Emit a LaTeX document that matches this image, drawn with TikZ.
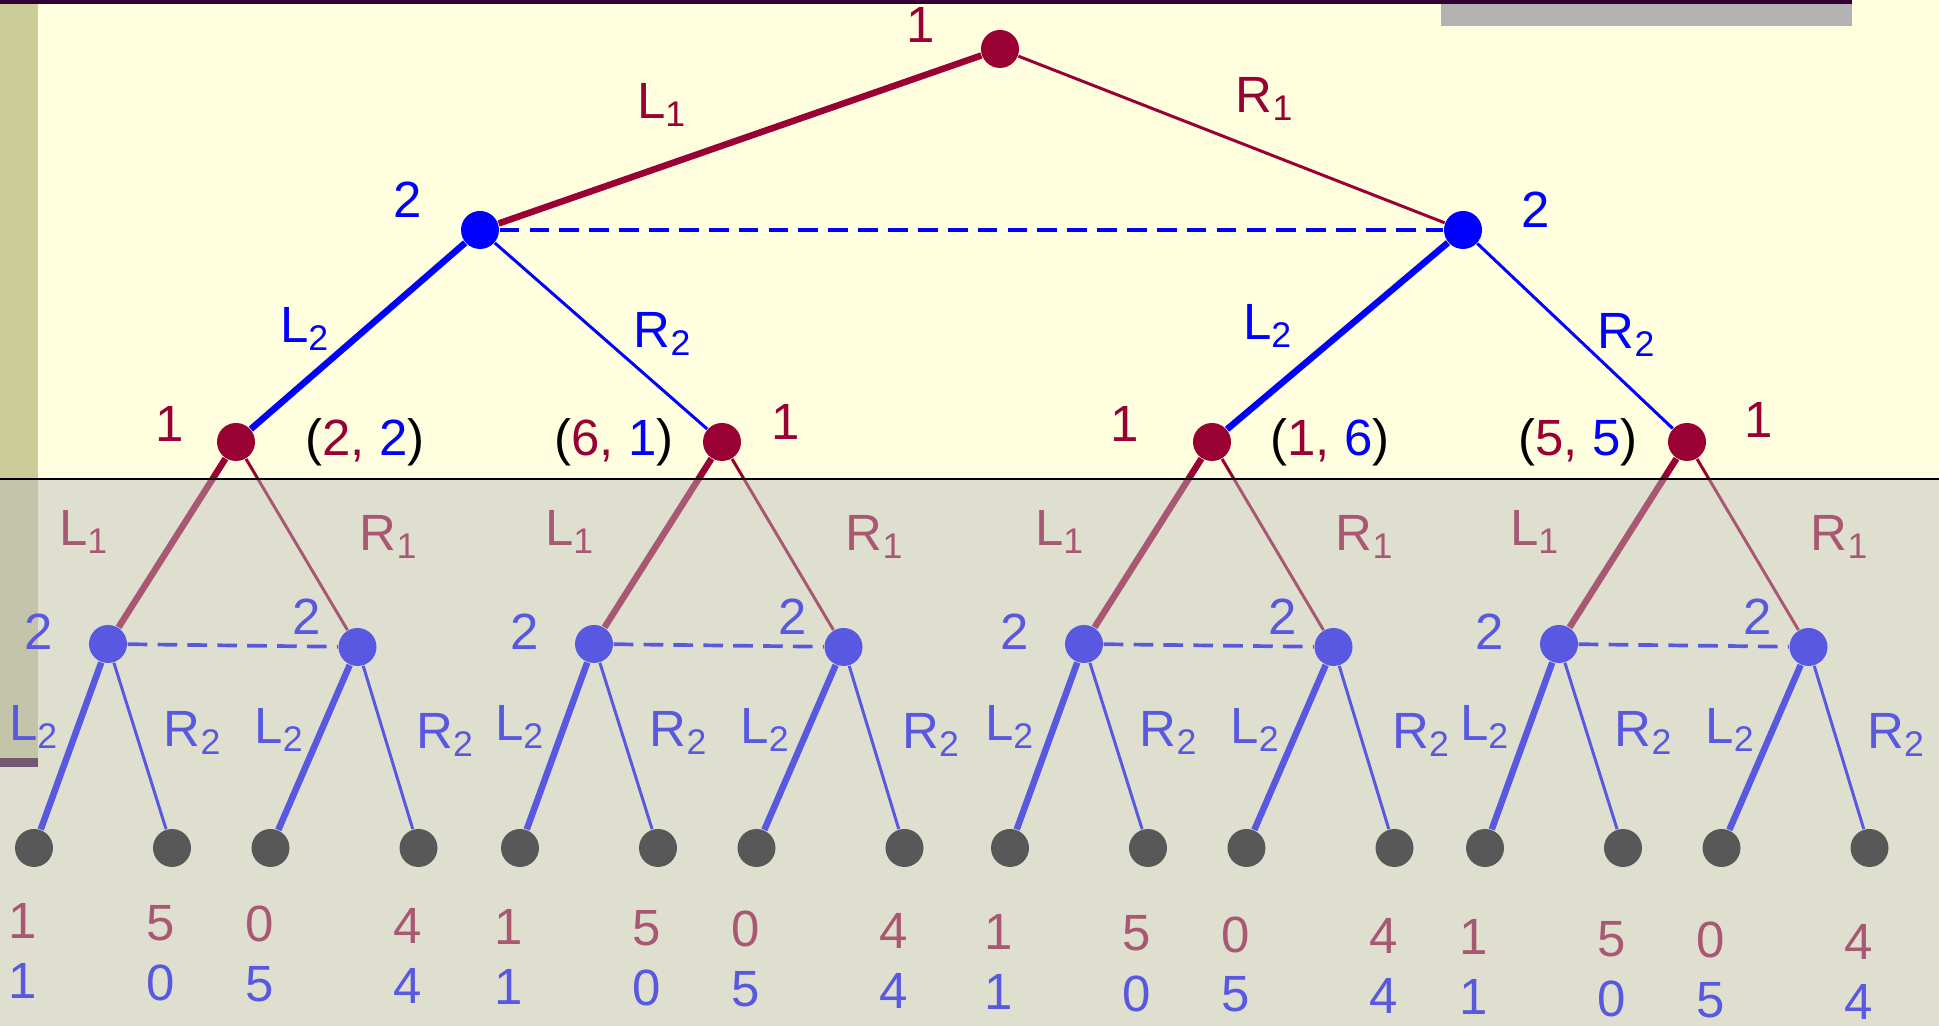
\documentclass[tikz,border=0pt]{standalone}
\usepackage{fontspec}
\setmainfont{Liberation Sans}
\usetikzlibrary{positioning,calc}
\definecolor{pone}{RGB}{153,0,51}
\definecolor{ptwo}{RGB}{0,0,255}
\definecolor{slidebg}{RGB}{255,255,224}
\definecolor{sidebar}{RGB}{204,204,153}
\definecolor{titlebar}{RGB}{51,0,51}
\definecolor{veil}{RGB}{189,189,190}
\definecolor{barshade}{RGB}{178,178,178}
\newcommand{\act}[2]{#1\textsubscript{#2}}
\tikzset{
  move node/.style={circle, fill=#1, minimum size=0.38cm, inner sep=0pt},
  end node/.style={circle, fill=black, minimum size=0.38cm, inner sep=0pt},
  main move/.style={draw=#1, line width=1.85pt},
  other move/.style={draw=#1, line width=0.85pt},
  info set/.style={draw=#1, line width=1.05pt, dash pattern=on 5.6pt off 2.9pt},
  lbl/.style={text=#1, font=\fontsize{14.5}{17}\selectfont, inner sep=0pt},
  payoff/.style={font=\fontsize{14.5}{17}\selectfont, inner sep=0pt}
}

\begin{document}
\begin{tikzpicture}
  % slide background
  \useasboundingbox (0,0) rectangle (19.39,10.26);
  \fill[slidebg] (0,0) rectangle (19.39,10.26);
  \fill[sidebar] (0,2.68) rectangle (0.38,10.22);
  \fill[titlebar] (0,2.59) rectangle (0.38,2.68);
  \fill[titlebar] (0,10.22) rectangle (18.52,10.26);
  \fill[barshade] (14.41,10.0) rectangle (18.52,10.22);

  % first stage
  \node[move node=pone] (root) at (10.0,9.77) {};
  \node[move node=ptwo] (p2l) at (4.8,7.96) {};
  \node[move node=ptwo] (p2r) at (14.63,7.96) {};
  \node[lbl=pone] (root-who) at (9.21,10.01) {1};
  \node[lbl=ptwo] (p2l-who) at (4.08,8.26) {2};
  \node[lbl=ptwo] (p2r-who) at (15.36,8.16) {2};
  \draw[main move=pone] (root) -- (p2l);
  \draw[other move=pone] (root) -- (p2r);
  \draw[info set=ptwo] (p2l) -- (p2r);
  \node[lbl=pone] (l1top) at (6.62,9.21) {\act{L}{1}};
  \node[lbl=pone] (r1top) at (12.65,9.27) {\act{R}{1}};
  \node[lbl=ptwo] (l2a) at (3.05,6.97) {\act{L}{2}};
  \node[lbl=ptwo] (r2a) at (6.63,6.92) {\act{R}{2}};
  \node[lbl=ptwo] (l2b) at (12.68,7.0) {\act{L}{2}};
  \node[lbl=ptwo] (r2b) at (16.27,6.91) {\act{R}{2}};

  % second stage: the game again below each outcome
  \foreach \nm/\x/\ox/\oy/\px/\pu/\pv in {a/2.36/-0.66/0.18/1.29/2/2, b/7.22/0.64/0.20/-1.08/6/1, c/12.12/-0.87/0.18/1.18/1/6, d/16.87/0.72/0.22/-1.09/5/5} {
    \node[move node=pone] (\nm) at (\x,5.84) {};
    \node[lbl=pone] (\nm-who) at ($(\nm)+(\ox,\oy)$) {1};
    \node[payoff] (\nm-sum) at ($(\nm)+(\px,0)$) {(\textcolor{pone}{\pu,} \textcolor{ptwo}{\pv})};
    \node[move node=ptwo] (\nm-l) at (\x-1.28,3.82) {};
    \node[move node=ptwo] (\nm-r) at (\x+1.215,3.79) {};
    \node[lbl=ptwo] (\nm-l-who) at ($(\nm-l)+(-0.69,0.12)$) {2};
    \node[lbl=ptwo] (\nm-r-who) at ($(\nm-r)+(-0.51,0.30)$) {2};
    \draw[main move=pone] (\nm) -- (\nm-l);
    \draw[other move=pone] (\nm) -- (\nm-r);
    \draw[info set=ptwo] (\nm-l) -- (\nm-r);
    \node[lbl=pone] (\nm-L1) at ($(\nm)+(-1.52,-0.90)$) {\act{L}{1}};
    \node[lbl=pone] (\nm-R1) at ($(\nm)+(1.53,-0.95)$) {\act{R}{1}};
    \node[lbl=ptwo] (\nm-lL2) at ($(\nm-l)+(-0.74,-0.83)$) {\act{L}{2}};
    \node[lbl=ptwo] (\nm-lR2) at ($(\nm-l)+(0.85,-0.89)$) {\act{R}{2}};
    \node[lbl=ptwo] (\nm-rL2) at ($(\nm-r)+(-0.78,-0.83)$) {\act{L}{2}};
    \node[lbl=ptwo] (\nm-rR2) at ($(\nm-r)+(0.88,-0.88)$) {\act{R}{2}};
    % leaves and payoffs
    \foreach \k/\dx/\u/\v in {1/-2.02/1/1, 2/-0.64/5/0, 3/0.345/0/5, 4/1.825/4/4} {
      \pgfmathsetmacro\lx{\x+\dx}
      \pgfmathsetmacro\py{1.05-0.011*\lx}
      \node[end node] (\nm-\k) at (\lx,1.78) {};
      \node[lbl=pone] (\nm-\k-u) at (\lx-0.11,\py) {\u};
      \node[lbl=ptwo] (\nm-\k-v) at (\lx-0.11,\py-0.6) {\v};
    }
    \draw[main move=ptwo] (\nm-l) -- (\nm-1);
    \draw[other move=ptwo] (\nm-l) -- (\nm-2);
    \draw[main move=ptwo] (\nm-r) -- (\nm-3);
    \draw[other move=ptwo] (\nm-r) -- (\nm-4);
  }
  \draw[main move=ptwo] (p2l) -- (a);
  \draw[other move=ptwo] (p2l) -- (b);
  \draw[main move=ptwo] (p2r) -- (c);
  \draw[other move=ptwo] (p2r) -- (d);

  % faded lower part
  \fill[veil, fill opacity=0.47] (0,0) rectangle (19.39,5.474);
  \draw[line width=0.6pt] (0,5.474) -- (19.39,5.474);
\end{tikzpicture}
\end{document}
